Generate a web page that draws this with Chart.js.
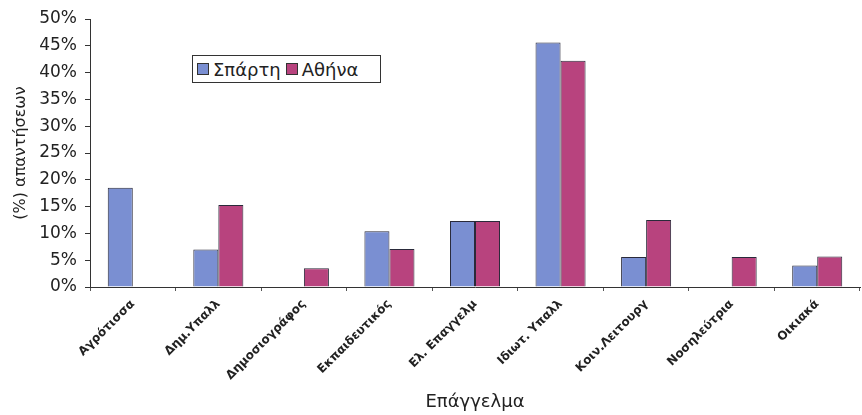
<!DOCTYPE html>
<html>
<head>
<meta charset="utf-8">
<script src="https://cdn.jsdelivr.net/npm/chart.js@4/dist/chart.umd.min.js"></script>
<style>
    body { margin: 0; background: #fff; }
    #wrap { position: relative; width: 862px; height: 415px; }
    #legendBox {
        position: absolute; left: 192px; top: 55px; width: 189px; height: 28px;
        border: 1px solid #333; background: #fff; box-sizing: border-box;
        font: 18px "DejaVu Sans", sans-serif; color: #222;
        display: flex; align-items: center; padding-left: 4px;
    }
    .sw { display: inline-block; width: 10px; height: 10px; border: 1px solid #333; margin-right: 4px; }
</style>
</head>
<body>
<div id="wrap">
    <canvas id="occChart" width="862" height="415"></canvas>
    <div id="legendBox">
        <span class="sw" style="background:#7a8fd2"></span><span style="margin-right:5px">Σπάρτη</span>
        <span class="sw" style="background:#b8437e"></span><span>Αθήνα</span>
    </div>
</div>
<script>
const categories = ['Αγρότισσα', 'Δημ.Υπαλλ', 'Δημοσιογράφος', 'Εκπαιδευτικός', 'Ελ. Επαγγελμ',
    'Ιδιωτ. Υπαλλ', 'Κοιν.Λειτουργ', 'Νοσηλεύτρια', 'Οικιακά'];
const spartiValues = [18.5, 7.0, 0, 10.4, 12.3, 45.6, 5.6, 0, 4.0];
const athinaValues = [0, 15.3, 3.5, 7.1, 12.3, 42.2, 12.5, 5.6, 5.7];
const yTicks = [0, 5, 10, 15, 20, 25, 30, 35, 40, 45, 50];

const ctx = document.getElementById('occChart');

new Chart(ctx, {
    type: 'bar',
    data: {
        labels: categories,
        datasets: [
            {
                label: 'Σπάρτη',
                data: spartiValues,
                backgroundColor: '#7a8fd2',
                borderColor: '#2a2a3a',
                borderWidth: 1,
                barPercentage: 1,
                categoryPercentage: 0.585
            },
            {
                label: 'Αθήνα',
                data: athinaValues,
                backgroundColor: '#b8437e',
                borderColor: '#2a2a3a',
                borderWidth: 1,
                barPercentage: 1,
                categoryPercentage: 0.585
            }
        ]
    },
    options: {
        responsive: false,
        animation: false,
        layout: { padding: { top: 19, right: 2, left: 0, bottom: 0 } },
        plugins: {
            legend: { display: false },
            tooltip: { enabled: false }
        },
        scales: {
            x: {
                grid: { display: true, drawOnChartArea: false, offset: true, color: '#555', tickLength: 4 },
                border: { color: '#333', width: 1 },
                ticks: {
                    color: '#222',
                    maxRotation: 45,
                    minRotation: 45,
                    autoSkip: false,
                    padding: 6,
                    font: { family: 'DejaVu Sans, sans-serif', size: 12, weight: 'bold' }
                },
                title: {
                    display: true,
                    text: 'Επάγγελμα',
                    color: '#222',
                    padding: { top: 4, bottom: 2 },
                    font: { family: 'DejaVu Sans, sans-serif', size: 18 }
                },
                afterFit: scale => { scale.height = 128; }
            },
            y: {
                min: 0,
                max: 50,
                afterBuildTicks: scale => { scale.ticks = yTicks.map(v => ({ value: v })); },
                grid: { display: true, drawOnChartArea: false, color: '#333', tickLength: 5 },
                border: { color: '#333', width: 1 },
                ticks: {
                    color: '#222',
                    padding: 8,
                    callback: v => v + '%',
                    font: { family: 'DejaVu Sans, sans-serif', size: 17 }
                },
                title: {
                    display: true,
                    text: '(%) απαντήσεων',
                    color: '#222',
                    padding: { top: 11, bottom: 2 },
                    font: { family: 'DejaVu Sans, sans-serif', size: 16 }
                },
                afterFit: scale => { scale.width = 90; }
            }
        }
    }
});
</script>
</body>
</html>
